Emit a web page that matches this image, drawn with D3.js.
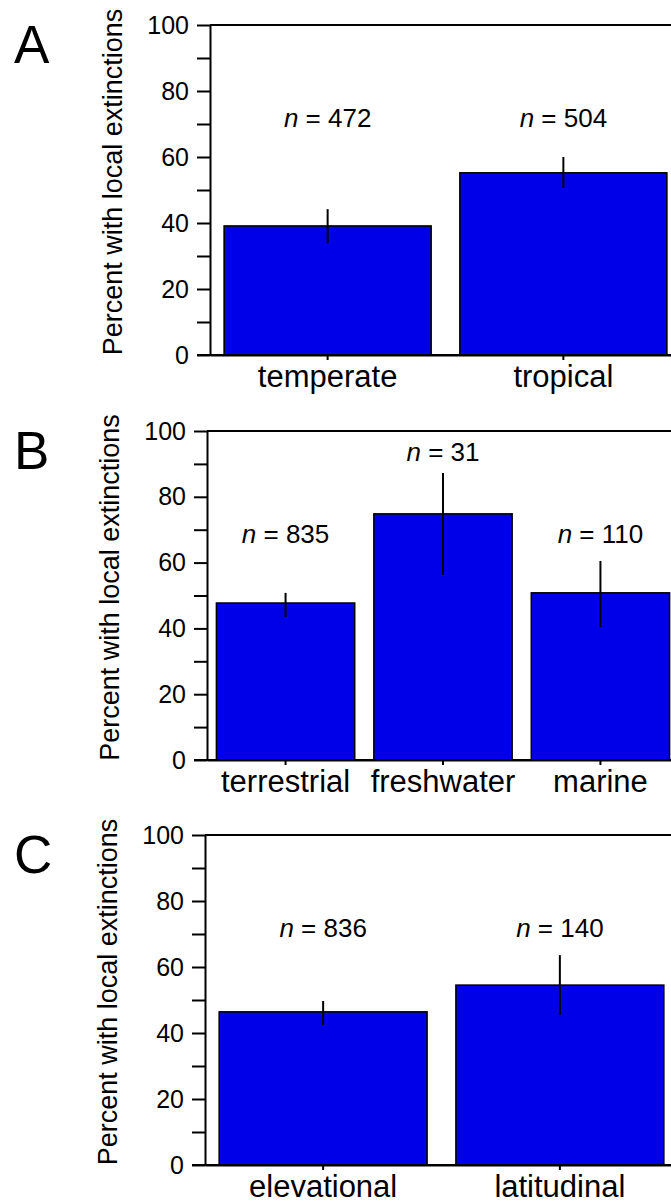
<!DOCTYPE html>
<html>
<head>
<meta charset="utf-8">
<script src="https://cdn.jsdelivr.net/npm/d3@7"></script>
<style>
  body { margin: 0; background: #fff; }
  svg { display: block; }
  text { font-family: "Liberation Sans", Arial, Helvetica, sans-serif; fill: #000; }
</style>
</head>
<body>
<svg id="chart" width="671" height="1204"></svg>
<script>
// Panel A: climate zone
const catsA = ["temperate", "tropical"],
      valsA = [39.1, 55.2],
      loA   = [33.9, 50.6],
      hiA   = [44.2, 60.0],
      nA    = [472, 504],
      nPosA = [69, 69];

// Panel B: habitat
const catsB = ["terrestrial", "freshwater", "marine"],
      valsB = [47.7, 74.8, 50.8],
      loB   = [43.5, 56.2, 40.4],
      hiB   = [50.8, 87.2, 60.5],
      nB    = [835, 31, 110],
      nPosB = [66, 91, 66];

// Panel C: gradient type
const catsC = ["elevational", "latitudinal"],
      valsC = [46.4, 54.5],
      loC   = [42.4, 45.5],
      hiC   = [49.7, 63.6],
      nC    = [836, 140],
      nPosC = [69, 69];

const yTicks = d3.range(0, 101, 10);
const yTitle = "Percent with local extinctions";
const barColor = "#0000e8";

const svg = d3.select("#chart");

// draws one panel; layout numbers live here, not in the data
const drawPanel = (letter, cats, vals, lo, hi, ns, nPos, box) => {
    const g = svg.append("g");

    const y = d3.scaleLinear().domain([0, 100]).range([box.zero, box.top]);
    const x = d3.scaleBand().domain(cats)
                .range([box.left, box.right])
                .paddingInner(0.122)
                .paddingOuter(0.06);

    // frame: top line
    g.append("line")
        .attr("x1", box.left).attr("x2", box.right)
        .attr("y1", y(100)).attr("y2", y(100))
        .style("stroke", "#000").style("stroke-width", 2);

    // bars
    g.selectAll(".bar")
        .data(cats)
        .enter()
        .append("rect")
        .attr("class", "bar")
        .attr("x", (d) => x(d))
        .attr("y", (d, i) => y(vals[i]))
        .attr("width", x.bandwidth())
        .attr("height", (d, i) => y(0) - y(vals[i]))
        .style("fill", barColor)
        .style("stroke", "#000")
        .style("stroke-width", 1.6);

    // error bars
    g.selectAll(".err")
        .data(cats)
        .enter()
        .append("line")
        .attr("class", "err")
        .attr("x1", (d) => x(d) + x.bandwidth() / 2)
        .attr("x2", (d) => x(d) + x.bandwidth() / 2)
        .attr("y1", (d, i) => y(lo[i]))
        .attr("y2", (d, i) => y(hi[i]))
        .style("stroke", "#000")
        .style("stroke-width", 2);

    // n labels
    const nText = g.selectAll(".nlab")
        .data(cats)
        .enter()
        .append("text")
        .attr("class", "nlab")
        .attr("x", (d) => x(d) + x.bandwidth() / 2)
        .attr("y", (d, i) => y(nPos[i]))
        .attr("text-anchor", "middle")
        .style("font-size", "26px");
    nText.append("tspan").style("font-style", "italic").text("n");
    nText.append("tspan").text((d, i) => " = " + ns[i]);

    // y axis
    const yAxis = d3.axisLeft(y)
        .tickValues(yTicks)
        .tickSize(13)
        .tickSizeOuter(0)
        .tickPadding(8)
        .tickFormat((d) => d % 20 === 0 ? d : "");
    const ya = g.append("g")
        .attr("transform", `translate(${box.left},0)`)
        .call(yAxis);
    ya.select(".domain").style("stroke-width", 2);
    ya.selectAll(".tick line").style("stroke-width", 2);
    ya.selectAll(".tick text")
        .style("font-size", "25px")
        .style("font-family", "'Liberation Sans', Arial, sans-serif")
        .attr("fill", "#000");

    // x axis
    const xAxis = d3.axisBottom(x).tickSize(5).tickSizeOuter(0).tickPadding(5);
    const xa = g.append("g")
        .attr("transform", `translate(0,${y(0)})`)
        .call(xAxis);
    xa.select(".domain").style("stroke-width", 2);
    xa.selectAll(".tick line").style("stroke-width", 2);
    xa.selectAll(".tick text")
        .style("font-size", "31px")
        .style("font-family", "'Liberation Sans', Arial, sans-serif")
        .attr("fill", "#000");

    // bottom line extends left under the zero tick
    g.append("line")
        .attr("x1", box.left - 13).attr("x2", box.right)
        .attr("y1", y(0)).attr("y2", y(0))
        .style("stroke", "#000").style("stroke-width", 2);

    // y title
    g.append("text")
        .attr("transform", `translate(${box.left - 88},${(box.top + box.zero) / 2 - 8}) rotate(-90)`)
        .attr("text-anchor", "middle")
        .style("font-size", "27px")
        .text(yTitle);

    // panel letter
    g.append("text")
        .attr("x", 14)
        .attr("y", box.top + 38)
        .style("font-size", "53px")
        .text(letter);
};

drawPanel("A", catsA, valsA, loA, hiA, nA, nPosA, {left: 210, right: 681, top: 25, zero: 355});
drawPanel("B", catsB, valsB, loB, hiB, nB, nPosB, {left: 207, right: 679, top: 431, zero: 760});
drawPanel("C", catsC, valsC, loC, hiC, nC, nPosC, {left: 205, right: 678, top: 835, zero: 1165});
</script>
</body>
</html>
